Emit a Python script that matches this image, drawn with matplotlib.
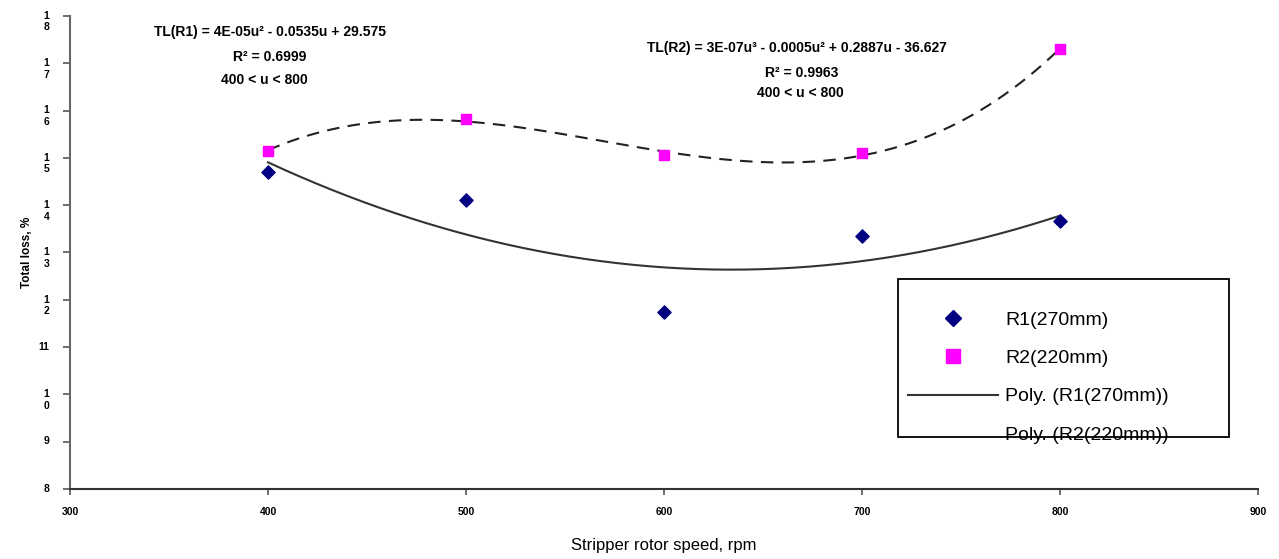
import numpy as np
import matplotlib
matplotlib.use('Agg')
import matplotlib.pyplot as plt
from matplotlib.lines import Line2D
from matplotlib.patches import Rectangle
from matplotlib.transforms import ScaledTranslation

plt.rcParams['font.family'] = ['Liberation Sans', 'DejaVu Sans']

# dane
predkosc = [400, 500, 600, 700, 800]
straty_r1 = [14.70, 14.11, 11.74, 13.35, 13.67]
straty_r2 = [15.15, 15.82, 15.06, 15.10, 17.30]

x_ticks = [300, 400, 500, 600, 700, 800, 900]
y_ticks = [8, 9, 10, 11, 12, 13, 14, 15, 16, 17, 18]
y_labels = ['8', '9', '1\n0', '11', '1\n2', '1\n3', '1\n4', '1\n5', '1\n6', '1\n7', '1\n8']

eq_r1 = ['TL(R1) = 4E-05u\u00b2 - 0.0535u + 29.575', 'R\u00b2 = 0.6999', '400 < u < 800']
eq_r2 = ['TL(R2) = 3E-07u\u00b3 - 0.0005u\u00b2 + 0.2887u - 36.627', 'R\u00b2 = 0.9963', '400 < u < 800']

W, H = 1279, 559
fig = plt.figure(figsize=(W / 100, H / 100), dpi=100)
ax = fig.add_axes([70 / W, 1 - 489 / H, (1258 - 70) / W, (489 - 16) / H])

# punkty
ax.scatter(predkosc, straty_r1, marker='D', s=45, color='#000080', zorder=3, label='R1(270mm)')
ax.scatter(predkosc, straty_r2, marker='s', s=60, color='#FF00FF', zorder=3, label='R2(220mm)')

# linie trendu
u = np.linspace(400, 800, 300)
p1 = np.polyfit(predkosc, straty_r1, 2)
p2 = np.polyfit(predkosc, straty_r2, 3)
ax.plot(u, np.polyval(p1, u), color='#333333', lw=1.5)
ax.plot(u, np.polyval(p2, u), color='#222222', lw=1.5, ls=(0, (6, 4)))

ax.set_xlim(300, 900)
ax.set_ylim(8, 18)
ax.set_xticks(x_ticks)
ax.set_xticklabels([str(v) for v in x_ticks], fontsize=7.5, fontweight='bold')
ax.set_yticks(y_ticks)
ax.set_yticklabels(y_labels, fontsize=7.5, fontweight='bold', multialignment='center')
ax.tick_params(axis='y', length=5, width=1.2, pad=10, color='#555555')
ax.tick_params(axis='x', length=4, width=1.2, pad=9, color='#555555')

przesuniecie = ScaledTranslation(0, 3.8 / 72, fig.dpi_scale_trans)
for lab in ax.get_yticklabels():
    lab.set_verticalalignment('top')
    lab.set_transform(lab.get_transform() + przesuniecie)

ax.spines['top'].set_visible(False)
ax.spines['right'].set_visible(False)
ax.spines['left'].set_color('#666666')
ax.spines['left'].set_linewidth(1.5)
ax.spines['bottom'].set_color('#333333')
ax.spines['bottom'].set_linewidth(1.5)

ax.set_xlabel('Stripper rotor speed, rpm', fontsize=12, labelpad=15)
ax.set_ylabel('Total loss, %', fontsize=8.5, fontweight='bold', labelpad=4)

# rownania
styl = dict(fontsize=10, fontweight='bold', ha='center', va='center')
fig.text(270 / W, 1 - 32 / H, eq_r1[0], **styl)
fig.text(270 / W, 1 - 57 / H, eq_r1[1], **styl)
fig.text(264 / W, 1 - 80 / H, eq_r1[2], **styl)
fig.text(797 / W, 1 - 48 / H, eq_r2[0], **styl)
fig.text(802 / W, 1 - 73 / H, eq_r2[1], **styl)
fig.text(800 / W, 1 - 93 / H, eq_r2[2], **styl)

# ramka legendy (ostatni wpis wystaje poza ramke jak w oryginale)
fig.patches.append(Rectangle((898 / W, 1 - 437 / H), (1229 - 898) / W, (437 - 279) / H,
                             transform=fig.transFigure, fill=False, edgecolor='black', lw=1.3))

uchwyty = [
    Line2D([], [], marker='D', color='#000080', ls='none', markersize=8),
    Line2D([], [], marker='s', color='#FF00FF', ls='none', markersize=10),
    Line2D([], [], color='#333333', lw=1.5),
    Line2D([], [], color='none'),
]
opisy = ['R1(270mm)', 'R2(220mm)', 'Poly. (R1(270mm))', 'Poly. (R2(220mm))']
leg = fig.legend(uchwyty, opisy, loc='upper left', bbox_to_anchor=(908 / W, 1 - 311 / H),
                 fontsize=14, frameon=False, handlelength=4.65, handletextpad=0.36,
                 labelspacing=1.07, borderpad=0, borderaxespad=0)

fig.savefig('out.png', dpi=100)
